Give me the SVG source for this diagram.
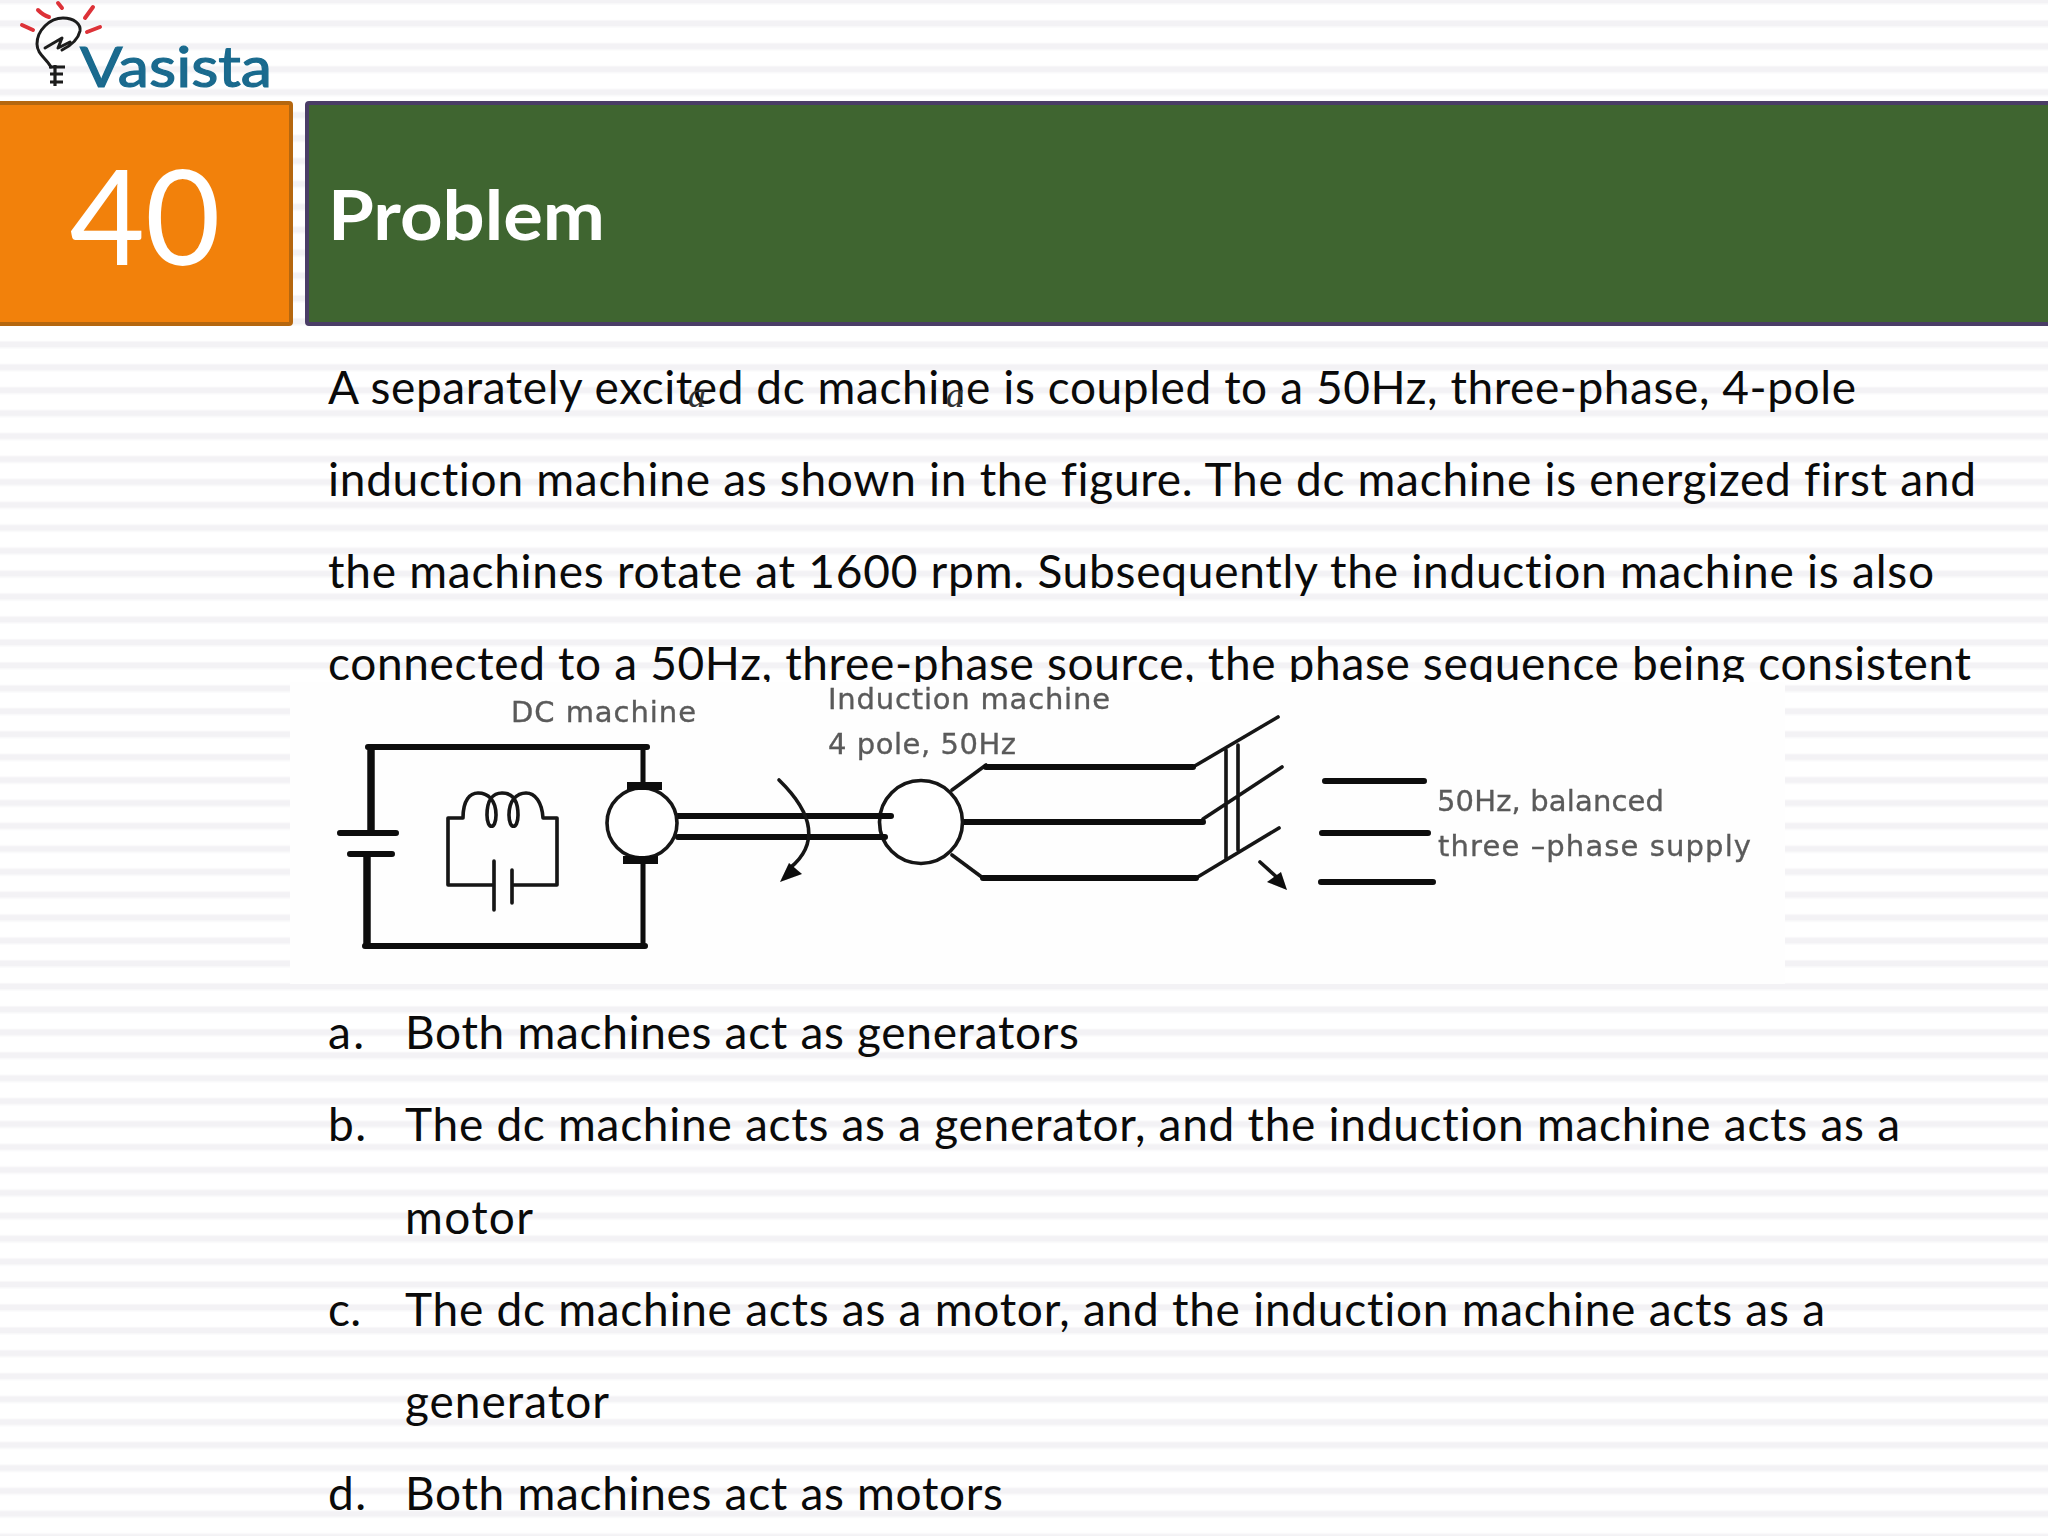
<svg xmlns="http://www.w3.org/2000/svg" width="2048" height="1536" viewBox="0 0 2048 1536">
<style>
.body{font-family:Lato,"Liberation Sans",sans-serif;font-size:46px;fill:#0a0a0a;font-variant-ligatures:none}
.lbl{font-family:"DejaVu Sans",sans-serif;font-size:29px;fill:#5a5a5a;stroke:#5a5a5a;stroke-width:.35}
.w6{fill:none;stroke:#0a0a0a;stroke-width:6;stroke-linecap:round;stroke-linejoin:round}
.w8{fill:none;stroke:#0a0a0a;stroke-width:7.500;stroke-linecap:butt;stroke-linejoin:round}
.w3{fill:none;stroke:#151515;stroke-width:3.600;stroke-linecap:round;stroke-linejoin:round}
.ray{fill:none;stroke:#dd3138;stroke-width:4;stroke-linecap:round}
.blk{fill:#0a0a0a;stroke:none}
.ital{font-family:"Liberation Serif",serif;font-style:italic;font-size:36px;fill:#333}
</style>
<defs>
<pattern id="stripes" patternUnits="userSpaceOnUse" width="64" height="22.93">
<rect width="64" height="22.93" fill="#ffffff"/>
<rect y="0" width="64" height="3.500" fill="#f3f2f5"/>
<rect y="3.500" width="64" height="1" fill="#f9f8fa"/>
<rect y="19.930" width="64" height="1" fill="#f9f8fa"/>
<rect y="20.930" width="64" height="2" fill="#f3f2f5"/>
</pattern>
<filter id="soft" x="-2%" y="-2%" width="104%" height="104%"><feGaussianBlur stdDeviation="0.7"/></filter>
</defs>
<rect id="background" width="2048" height="1536" fill="url(#stripes)"/>
<g id="logo" filter="url(#soft)">
<path class="ray" d="M38 10C42 14 45 16 49 17M58 3L62 8M93 7L85 18M22 25L33 30M87 32L100 27"/>
<path d="M51 67C46 58 37 54 37 44C37 30 50 18 63 18C74 18 81 24 80 31C78 40 70 46 62 50M45 48L62 38L58 48L70 42" fill="none" stroke="#1c1c1c" stroke-width="3" stroke-linecap="round" stroke-linejoin="round"/>
<path d="M55 65V86M49 67H65M50 74H63M50 82H63" fill="none" stroke="#1c1c1c" stroke-width="3.200"/>
<text x="80" y="87" font-family="Lato,'Liberation Sans',sans-serif" font-size="56" fill="#1a6a8e" stroke="#1a6a8e" stroke-width="1.200" textLength="192" lengthAdjust="spacingAndGlyphs">Vasista</text>
</g>
<g id="number-box">
<rect x="-3" y="103" width="294" height="221" rx="2" fill="#f2810b" stroke="#b5670f" stroke-width="4"/>
<text x="145" y="265" text-anchor="middle" font-family="Lato,'Liberation Sans',sans-serif" font-size="132" fill="#ffffff" textLength="151" lengthAdjust="spacingAndGlyphs">40</text>
</g>
<g id="title-box">
<rect x="307" y="103" width="1745" height="221" rx="2" fill="#3f6530" stroke="#4a3d66" stroke-width="4"/>
<text x="328" y="240" font-family="Lato,'Liberation Sans',sans-serif" font-weight="700" font-size="68" fill="#ffffff" textLength="277" lengthAdjust="spacingAndGlyphs">Problem</text>
</g>
<g id="paragraph">
<text class="body" x="328" y="404" textLength="1528">A separately excited dc machine is coupled to a 50Hz, three-phase, 4-pole</text>
<text class="body" x="328" y="496" textLength="1648">induction machine as shown in the figure. The dc machine is energized first and</text>
<text class="body" x="328" y="588" textLength="1606">the machines rotate at 1600 rpm. Subsequently the induction machine is also</text>
<text class="body" x="328" y="680" textLength="1643">connected to a 50Hz, three-phase source, the phase sequence being consistent</text>
<text class="ital" x="688" y="407">a</text>
<text class="ital" x="946" y="407">a</text>
</g>
<g id="figure">
<rect x="290" y="682" width="1495" height="302" fill="#fefefe"/>
<g filter="url(#soft)">
<g id="labels">
<text class="lbl" x="511" y="722" textLength="185">DC machine</text>
<text class="lbl" x="828" y="709" textLength="282">Induction machine</text>
<text class="lbl" x="828" y="754" textLength="188">4 pole, 50Hz</text>
<text class="lbl" x="1437" y="811" textLength="227">50Hz, balanced</text>
<text class="lbl" x="1438" y="856" textLength="313">three –phase supply</text>
</g>
<g id="connectors">
<path class="w8" d="M371 833V747"/>
<path class="w6" d="M368 747H647"/>
<path class="w6" d="M643 747V783" style="stroke-width:5"/>
<path class="w6" d="M340 833H396M350 854H392"/>
<path class="w8" d="M367 854V946"/>
<path class="w6" d="M365 946H645"/>
<path class="w6" d="M643 946V863" style="stroke-width:5"/>
<path class="w6" d="M678 816H891M678 837H885"/>
<path class="w3" d="M779 780C815 815 818 845 790 868"/>
<path class="w3" d="M952 790L986 765M952 855L983 878M1193 767L1278 717M1203 819L1282 767M1196 878L1279 828M1226 750V860M1238 745V850M1260 862L1280 880"/>
<path class="w6" d="M986 767H1193M963 822H1203M983 878H1196M1325 781H1424M1322 833H1428M1321 882H1433"/>
</g>
<path class="blk" d="M780 882L789 863L802 874Z"/>
<path class="blk" d="M1287 890L1267 882L1281 872Z"/>
<g id="dc-machine">
<circle cx="642" cy="823" r="35" fill="#fff" stroke="#151515" stroke-width="3.600"/>
<rect class="blk" x="627" y="782" width="35" height="8"/>
<rect class="blk" x="623" y="856" width="35" height="8"/>
</g>
<g id="field-winding">
<path class="w3" d="M493 885H448V818H463C463 800 470 793 478 793C488 793 496 800 496 815C496 830 487 830 487 815C487 800 493 793 502 793C512 793 518 800 518 815C518 830 509 830 509 815C509 800 517 793 526 793C535 793 542 802 543 818H557V885H512M494 861V910M512 870V903"/>
</g>
<g id="induction-machine">
<circle cx="921" cy="822" r="41.500" fill="#fff" stroke="#151515" stroke-width="3.600"/>
<path class="w6" d="M891 816H879M885 837H880"/>
</g>
</g>
</g>
<g id="options">
<text class="body" x="328" y="1049" textLength="36">a.</text>
<text class="body" x="405" y="1049" textLength="674">Both machines act as generators</text>
<text class="body" x="328" y="1141" textLength="38">b.</text>
<text class="body" x="405" y="1141" textLength="1495">The dc machine acts as a generator, and the induction machine acts as a</text>
<text class="body" x="405" y="1234" textLength="128">motor</text>
<text class="body" x="328" y="1326" textLength="33">c.</text>
<text class="body" x="405" y="1326" textLength="1420">The dc machine acts as a motor, and the induction machine acts as a</text>
<text class="body" x="405" y="1418" textLength="204">generator</text>
<text class="body" x="328" y="1510" textLength="38">d.</text>
<text class="body" x="405" y="1510" textLength="598">Both machines act as motors</text>
</g>
</svg>
